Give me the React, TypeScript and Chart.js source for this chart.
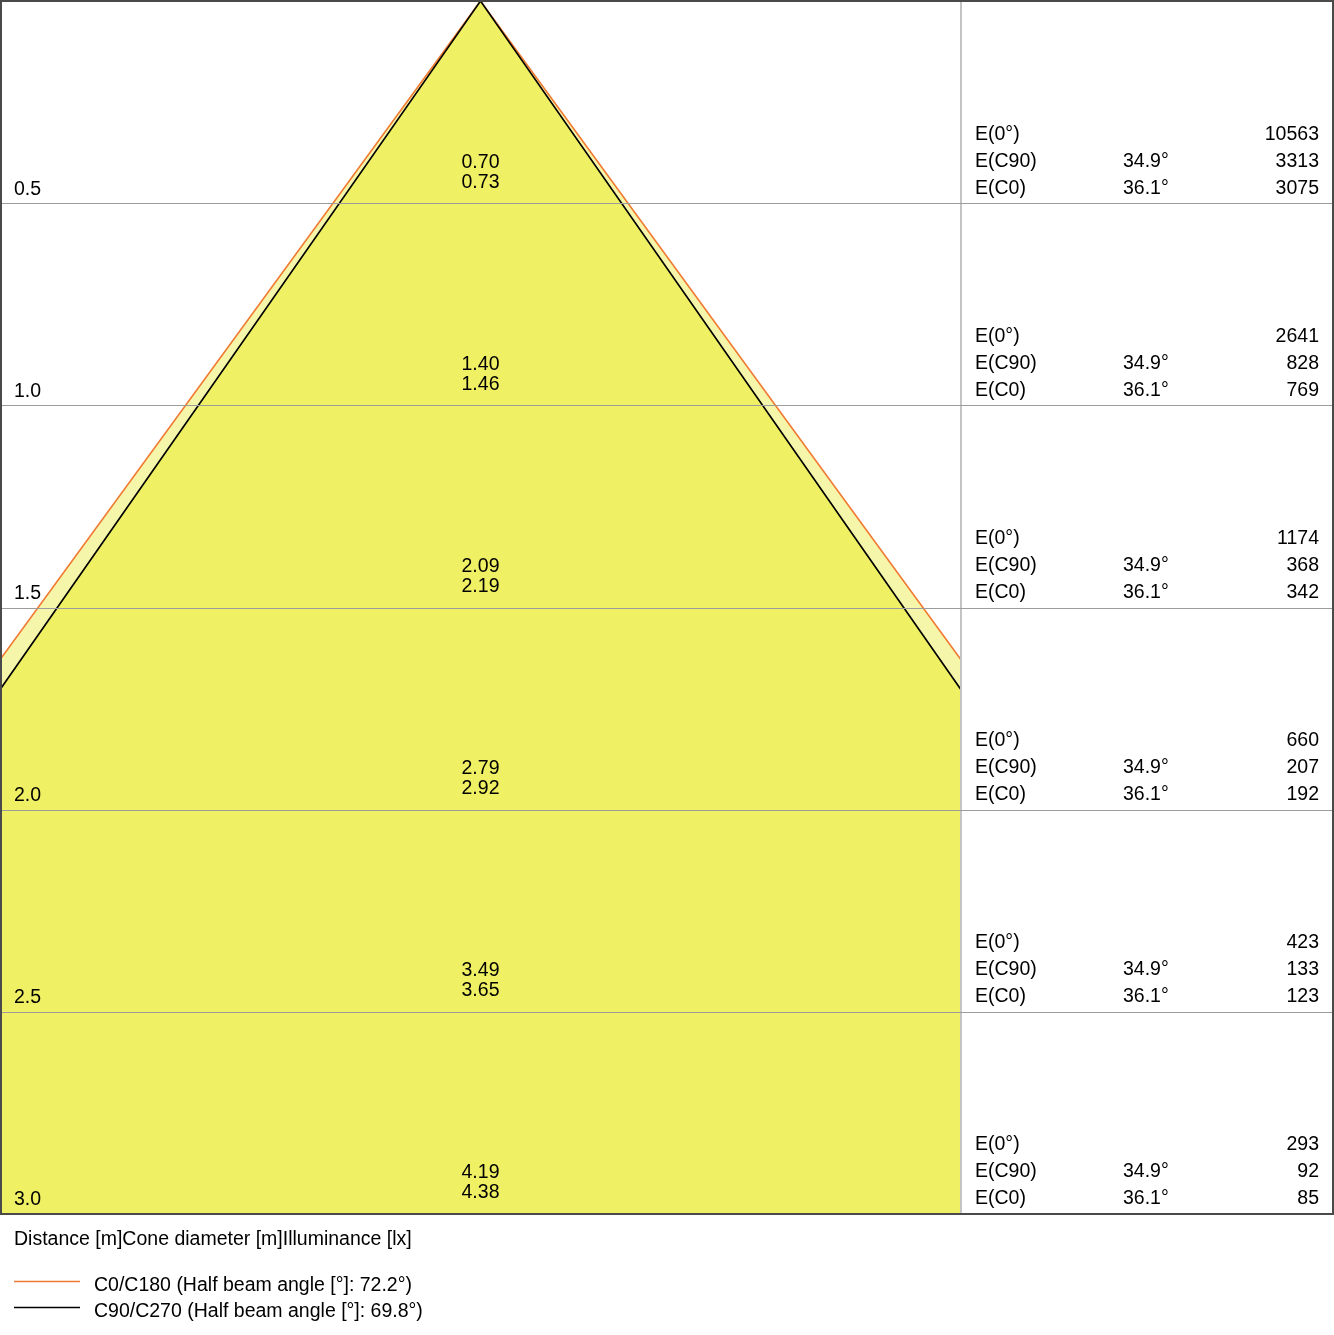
import { useEffect, useRef } from 'react';
import { Chart, registerables, Plugin } from 'chart.js';

Chart.register(...registerables);

// Distances below the luminaire [m]
const distances = [0.5, 1.0, 1.5, 2.0, 2.5, 3.0];
// Cone diameters [m]
const coneC90 = [0.7, 1.4, 2.09, 2.79, 3.49, 4.19];
const coneC0 = [0.73, 1.46, 2.19, 2.92, 3.65, 4.38];
// Illuminance [lx]
const illumCenter = [10563, 2641, 1174, 660, 423, 293];
const illumC90 = [3313, 828, 368, 207, 133, 92];
const illumC0 = [3075, 769, 342, 192, 123, 85];
const angleC90 = '34.9°';
const angleC0 = '36.1°';
const rowLabels = ['E(0°)', 'E(C90)', 'E(C0)'];
const legendLabels = [
  'C0/C180 (Half beam angle [°]: 72.2°)',
  'C90/C270 (Half beam angle [°]: 69.8°)',
];
const footerTitle = 'Distance [m]Cone diameter [m]Illuminance [lx]';

const ORANGE = '#f07a32';
const FONT = '19.5px "Liberation Sans", Arial, sans-serif';

const last = distances.length - 1;
const conePoints = (diam: number[]) => [
  { x: -diam[last] / 2, y: distances[last] },
  { x: 0, y: 0 },
  { x: diam[last] / 2, y: distances[last] },
];

const overlay: Plugin<'scatter'> = {
  id: 'coneOverlay',
  afterDatasetsDraw(chart) {
    const { ctx, chartArea, scales } = chart;
    const xs = scales.x;
    const ys = scales.y;
    const right = 1333;
    ctx.save();

    // horizontal grid across cone and table
    ctx.strokeStyle = '#9c9c9c';
    ctx.lineWidth = 1.2;
    distances.slice(0, last).forEach((d) => {
      const py = Math.round(ys.getPixelForValue(d)) + 0.5;
      ctx.beginPath();
      ctx.moveTo(chartArea.left, py);
      ctx.lineTo(right, py);
      ctx.stroke();
    });
    // table divider
    ctx.beginPath();
    ctx.moveTo(chartArea.right + 1, chartArea.top);
    ctx.lineTo(chartArea.right + 1, chartArea.bottom);
    ctx.stroke();

    // outer frame
    ctx.strokeStyle = '#4a4a4a';
    ctx.lineWidth = 2;
    ctx.strokeRect(1, 1, right - 1, chartArea.bottom - 1);

    // texts
    ctx.font = FONT;
    ctx.fillStyle = '#000';
    ctx.textBaseline = 'middle';
    const cx = xs.getPixelForValue(0);
    const tx = chartArea.right + 15;
    distances.forEach((d, i) => {
      const py = ys.getPixelForValue(d) + 2;
      ctx.textAlign = 'left';
      ctx.fillText(d.toFixed(1), 14, py - 16);
      ctx.textAlign = 'center';
      ctx.fillText(coneC90[i].toFixed(2), cx, py - 43);
      ctx.fillText(coneC0[i].toFixed(2), cx, py - 23);

      ctx.textAlign = 'left';
      ctx.fillText(rowLabels[0], tx, py - 71);
      ctx.fillText(rowLabels[1], tx, py - 44);
      ctx.fillText(rowLabels[2], tx, py - 17);
      ctx.fillText(angleC90, tx + 148, py - 44);
      ctx.fillText(angleC0, tx + 148, py - 17);
      ctx.textAlign = 'right';
      ctx.fillText(String(illumCenter[i]), right - 14, py - 71);
      ctx.fillText(String(illumC90[i]), right - 14, py - 44);
      ctx.fillText(String(illumC0[i]), right - 14, py - 17);
    });

    // footer and legend
    ctx.textAlign = 'left';
    ctx.fillText(footerTitle, 14, chartArea.bottom + 26);
    const legendColors = [ORANGE, '#000'];
    legendLabels.forEach((label, i) => {
      const ly = chartArea.bottom + 67 + i * 26;
      ctx.strokeStyle = legendColors[i];
      ctx.lineWidth = 1.5;
      ctx.beginPath();
      ctx.moveTo(14, ly + 0.5);
      ctx.lineTo(80, ly + 0.5);
      ctx.stroke();
      ctx.fillText(label, 94, ly + 5);
    });
    ctx.restore();
  },
};

export default function App() {
  const canvasRef = useRef<HTMLCanvasElement>(null);
  const chartRef = useRef<Chart<'scatter'> | null>(null);

  useEffect(() => {
    document.body.style.margin = '0';
    if (!canvasRef.current) return;
    chartRef.current?.destroy();

    chartRef.current = new Chart(canvasRef.current, {
      type: 'scatter',
      data: {
        datasets: [
          {
            label: 'C90/C270',
            data: conePoints(coneC90),
            showLine: true,
            borderColor: '#000',
            borderWidth: 1.6,
            backgroundColor: '#f0f064',
            fill: { value: distances[last] },
            pointRadius: 0,
            tension: 0,
          },
          {
            label: 'C0/C180',
            data: conePoints(coneC0),
            showLine: true,
            borderColor: ORANGE,
            borderWidth: 1.6,
            backgroundColor: '#f6f6aa',
            fill: { value: distances[last] },
            pointRadius: 0,
            tension: 0,
          },
        ],
      },
      options: {
        responsive: true,
        maintainAspectRatio: false,
        animation: false,
        layout: { padding: { left: 1, top: 1, right: 374, bottom: 121 } },
        plugins: {
          legend: { display: false },
          tooltip: { enabled: false },
          title: { display: false },
        },
        scales: {
          x: { type: 'linear', min: -1.187, max: 1.187, display: false },
          y: { type: 'linear', min: 0, max: 3, reverse: true, display: false },
        },
      },
      plugins: [overlay],
    });

    return () => {
      chartRef.current?.destroy();
      chartRef.current = null;
    };
  }, []);

  return (
    <div style={{ width: 1334, height: 1335, position: 'relative', background: '#fff' }}>
      <canvas ref={canvasRef} />
    </div>
  );
}
